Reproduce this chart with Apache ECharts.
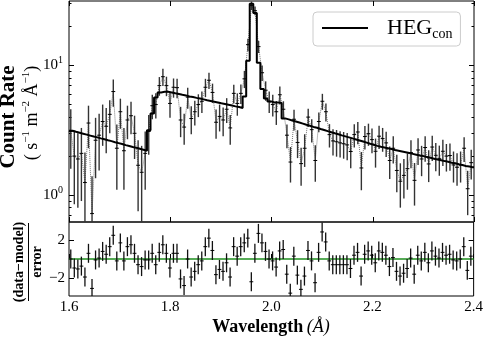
<!DOCTYPE html>
<html>
<head>
<meta charset="utf-8">
<script src="https://cdn.jsdelivr.net/npm/echarts@6/dist/echarts.min.js"></script>
<style>
html, body { margin: 0; padding: 0; background: #fff; }
#main { width: 486px; height: 340px; }
</style>
</head>
<body>
<div id="main"></div>
<script>
// bin centres (Angstrom)
var wave = [
  1.6035, 1.6105, 1.6175, 1.6245, 1.6315, 1.6385, 1.6455, 1.6525, 1.6595, 1.6665,
  1.6735, 1.6805, 1.6875, 1.6945, 1.7015, 1.7085, 1.7155, 1.7225, 1.7295, 1.7365,
  1.7435, 1.7505, 1.7575, 1.7645, 1.7715, 1.7785, 1.7855, 1.7925, 1.7995, 1.8065,
  1.8135, 1.8205, 1.8275, 1.8345, 1.8415, 1.8485, 1.8555, 1.8625, 1.8695, 1.8765,
  1.8835, 1.8905, 1.8975, 1.9045, 1.9115, 1.9185, 1.9255, 1.9325, 1.9395, 1.9465,
  1.9535, 1.9605, 1.9675, 1.9745, 1.9815, 1.9885, 1.9955, 2.0025, 2.0095, 2.0165,
  2.0235, 2.0305, 2.0375, 2.0445, 2.0515, 2.0585, 2.0655, 2.0725, 2.0795, 2.0865,
  2.0935, 2.1005, 2.1075, 2.1145, 2.1215, 2.1285, 2.1355, 2.1425, 2.1495, 2.1565,
  2.1635, 2.1705, 2.1775, 2.1845, 2.1915, 2.1985, 2.2055, 2.2125, 2.2195, 2.2265,
  2.2335, 2.2405, 2.2475, 2.2545, 2.2615, 2.2685, 2.2755, 2.2825, 2.2895, 2.2965,
  2.3035, 2.3105, 2.3175, 2.3245, 2.3315, 2.3385, 2.3455, 2.3525, 2.3595, 2.3665,
  2.3735, 2.3805, 2.3875, 2.3945
];

// count rate, its error, the HEG_con model and (data-model)/error
var rate = [
  3.1, 2.0, 1.9, 2.1, 1.25, 3.6, 0.72, 2.65, 2.9, 3.7,
  3.4, 4.2, 6.3, 2.3, 4.4, 2.2, 3.8, 4.1, 3.0, 1.7,
  1.5, 2.1, 3.1, 4.9, 5.0, 7.0, 8.2, 7.0, 5.1, 6.8,
  6.75, 3.8, 3.35, 5.7, 3.9, 4.4, 5.0, 5.3, 6.8, 7.7,
  6.2, 3.65, 4.05, 3.8, 4.6, 3.3, 6.1, 5.1, 6.1, 7.9,
  14.5, 29.0, 26.5, 14.0, 8.8, 6.45, 5.3, 5.0, 4.4, 5.95,
  4.6, 2.9, 1.8, 3.85, 2.55, 1.75, 2.3, 4.0, 3.2, 1.85,
  3.7, 5.3, 4.4, 2.93, 2.62, 2.58, 2.53, 2.49, 2.44, 2.17,
  2.93, 3.07, 1.62, 2.83, 2.98, 2.68, 2.18, 2.85, 2.73, 2.53,
  1.85, 2.3, 1.55, 1.28, 1.42, 1.6, 2.13, 1.3, 2.23, 1.9,
  2.33, 1.74, 2.35, 2.03, 1.91, 2.18, 2.0, 2.02, 1.71, 1.64,
  1.71, 2.3, 1.12, 1.78
];
var rateErr = [
  1.5, 1.15, 1.1, 1.2, 0.88, 1.3, 0.68, 1.3, 1.35, 1.3,
  1.3, 1.2, 1.5, 1.2, 1.15, 1.1, 1.1, 1.15, 1.1, 0.95,
  0.9, 1.0, 1.05, 1.05, 1.1, 1.15, 1.25, 1.2, 1.15, 1.15,
  1.15, 1.0, 0.9, 1.05, 0.95, 0.95, 1.0, 1.0, 1.1, 1.1,
  1.05, 0.93, 0.95, 0.95, 1.0, 0.85, 1.0, 1.0, 1.05, 1.2,
  1.6, 2.2, 2.1, 1.5, 1.2, 1.1, 1.0, 0.95, 0.92, 0.95,
  0.7, 0.6, 0.55, 0.7, 0.62, 0.57, 0.65, 0.65, 0.65, 0.58,
  0.65, 0.75, 0.7, 0.6, 0.6, 0.6, 0.58, 0.58, 0.58, 0.56,
  0.6, 0.6, 0.53, 0.58, 0.58, 0.58, 0.55, 0.58, 0.57, 0.56,
  0.52, 0.55, 0.5, 0.48, 0.48, 0.5, 0.52, 0.47, 0.52, 0.5,
  0.52, 0.48, 0.52, 0.5, 0.5, 0.5, 0.48, 0.48, 0.46, 0.46,
  0.46, 0.5, 0.42, 0.46
];
var model = [
  3.14, 3.08, 3.03, 2.98, 2.93, 2.88, 2.83, 2.79, 2.74, 2.70,
  2.65, 2.61, 2.56, 2.52, 2.48, 2.43, 2.39, 2.35, 2.32, 2.28,
  2.24, 2.20, 3.16, 4.27, 5.67, 6.2, 6.27, 6.27, 6.2, 6.11,
  6.04, 5.95, 5.87, 5.78, 5.71, 5.63, 5.56, 5.48, 5.40, 5.33,
  5.26, 5.19, 5.11, 5.05, 4.98, 4.91, 4.84, 4.78, 4.71, 5.78,
  10.9, 30.0, 25.5, 10.5, 6.6, 5.57, 5.29, 5.19, 5.19, 5.15,
  3.91, 3.84, 3.77, 3.70, 3.63, 3.56, 3.49, 3.43, 3.36, 3.31,
  3.24, 3.18, 3.12, 3.06, 3.00, 2.95, 2.89, 2.84, 2.79, 2.74,
  2.69, 2.64, 2.59, 2.54, 2.49, 2.45, 2.40, 2.36, 2.33, 2.30,
  2.27, 2.23, 2.20, 2.17, 2.14, 2.11, 2.08, 2.05, 2.02, 2.00,
  1.97, 1.94, 1.91, 1.88, 1.86, 1.83, 1.81, 1.78, 1.76, 1.73,
  1.71, 1.68, 1.66, 1.64
];
var resid = [
  0, -0.95, -1.05, -0.75, -1.9, 0.6, -3.1, -0.1, 0.1, 0.8,
  0.5, 1.3, 2.5, -0.2, 1.7, -0.2, 1.3, 1.5, 0.6, -0.6,
  -0.8, -0.1, -0.1, 0.6, -0.6, 0.7, 1.5, 0.6, -0.95, 0.6,
  0.6, -2.1, -2.8, 0, -1.9, -1.3, -0.6, -0.2, 1.3, 2.2,
  0.9, -1.65, -1.1, -1.3, -0.4, -1.9, 1.3, 0.3, 1.3, 1.7,
  2.2, -2.4, 0.6, 2.7, 1.7, 0.8, 0, -0.2, -0.85, 0.85,
  1.0, -1.6, -3.6, 0.3, -1.7, -3.2, -1.8, 0.9, -0.2, -2.5,
  0.7, 2.85, 1.8, -0.2, -0.6, -0.6, -0.6, -0.6, -0.6, -1.0,
  0.4, 0.7, -1.8, 0.5, 0.85, 0.4, -0.4, 0.85, 0.7, 0.4,
  -0.8, 0.15, -1.3, -1.8, -1.5, -1.0, 0.1, -1.6, 0.4, -0.2,
  0.7, -0.4, 0.85, 0.3, 0.1, 0.7, 0.4, 0.5, -0.1, -0.2,
  0, 1.3, -1.2, 0.3
];

var xTicks = [1.6, 1.8, 2.0, 2.2, 2.4];
var yMajor = [1, 10];
var yMinor = [0.7, 0.8, 0.9, 2, 3, 4, 5, 6, 7, 8, 9, 20, 30];
var residTicks = [-2, 2];

var xMin = 1.6, xMax = 2.4;
var yMin = 0.62, yMax = 31.5;
var rMin = -3.9, rMax = 3.9;
var halfBin = 0.0038;
var serif = '"Liberation Serif", "DejaVu Serif", serif';

var chart = echarts.init(document.getElementById('main'));

function xAxisOf(grid, pos, withLabels) {
  return {
    type: 'value', gridIndex: grid, position: pos,
    min: xMin, max: xMax, interval: 0.2,
    axisLine: { show: false },
    splitLine: { show: false },
    axisTick: { inside: true, length: 5, customValues: xTicks, lineStyle: { color: '#000', width: 1 } },
    axisLabel: withLabels ? {
      customValues: xTicks, margin: 4, color: '#000',
      fontFamily: serif, fontSize: 15,
      formatter: function (v) { return v.toFixed(1); }
    } : { show: false }
  };
}

function logAxisOf(pos, ticks, len, withLabels) {
  return {
    type: 'log', logBase: 10, gridIndex: 0, position: pos,
    min: yMin, max: yMax,
    axisLine: { show: false },
    splitLine: { show: false },
    axisTick: { inside: true, length: len, customValues: ticks, lineStyle: { color: '#000', width: 1 } },
    axisLabel: withLabels ? {
      customValues: ticks, margin: 6,
      formatter: function (v) {
        return '{b|10}{s|' + Math.round(Math.log10(v)) + '}';
      },
      rich: {
        b: { fontFamily: serif, fontSize: 15, lineHeight: 20, color: '#000' },
        s: { fontFamily: serif, fontSize: 10, lineHeight: 10, verticalAlign: 'top', color: '#000' }
      }
    } : { show: false }
  };
}

function residAxisOf(pos, withLabels) {
  return {
    type: 'value', gridIndex: 1, position: pos,
    min: rMin, max: rMax,
    axisLine: { show: false },
    splitLine: { show: false },
    axisTick: { inside: true, length: 5, customValues: residTicks, lineStyle: { color: '#000', width: 1 } },
    axisLabel: withLabels ? {
      customValues: residTicks, margin: 4, color: '#000',
      fontFamily: serif, fontSize: 15,
      formatter: function (v) { return v < 0 ? '\u2212' + (-v) : '' + v; }
    } : { show: false }
  };
}

// error bar: vertical bar +- err, horizontal bar over the bin
function errBar(lo, hi, barColor, barWidth) {
  return function (params, api) {
    var x = api.value(0), y = api.value(1), e = api.value(2);
    var a = api.coord([x, Math.max(y - e, lo)]);
    var b = api.coord([x, Math.min(y + e, hi)]);
    var l = api.coord([x - halfBin, y]);
    var r = api.coord([x + halfBin, y]);
    return {
      type: 'group',
      children: [
        { type: 'line', shape: { x1: a[0], y1: a[1], x2: b[0], y2: b[1] },
          style: { stroke: barColor, lineWidth: barWidth } },
        { type: 'line', shape: { x1: l[0], y1: l[1], x2: r[0], y2: r[1] },
          style: { stroke: '#000', lineWidth: 1 } }
      ]
    };
  };
}

var dataPts = wave.map(function (w, i) { return [w, rate[i]]; });
var errPts = wave.map(function (w, i) { return [w, rate[i], rateErr[i]]; });
var modelPts = [[xMin, model[0]]]
  .concat(wave.map(function (w, i) { return [w, model[i]]; }))
  .concat([[xMax, model[model.length - 1]]]);
var residPts = wave.map(function (w, i) { return [w, resid[i], 1]; });

var option = {
  animation: false,
  backgroundColor: '#fff',
  textStyle: { fontFamily: serif },
  grid: [
    { left: 69, top: 1, width: 405, height: 221, show: true, borderColor: '#000', borderWidth: 1, backgroundColor: 'transparent' },
    { left: 69, top: 222, width: 405, height: 74, show: true, borderColor: '#000', borderWidth: 1, backgroundColor: 'transparent' }
  ],
  xAxis: [
    xAxisOf(0, 'bottom', false),
    xAxisOf(0, 'top', false),
    xAxisOf(1, 'bottom', true)
  ],
  yAxis: [
    logAxisOf('left', yMajor, 5, true),
    logAxisOf('left', yMinor, 2.5, false),
    logAxisOf('right', yMajor, 5, false),
    logAxisOf('right', yMinor, 2.5, false),
    residAxisOf('left', true),
    residAxisOf('right', false)
  ],
  legend: {
    left: 313, top: 12,
    padding: [5, 8, 5, 9],
    borderColor: '#ccc', borderWidth: 1, borderRadius: 4,
    backgroundColor: 'rgba(255,255,255,0.8)',
    icon: 'rect', itemWidth: 46, itemHeight: 2,
    data: ['HEG_con'],
    formatter: function () { return '{m|HEG}{s|con}'; },
    textStyle: {
      padding: [0, 0, 0, 14],
      rich: {
        m: { fontFamily: serif, fontSize: 22, lineHeight: 26, color: '#000' },
        s: { fontFamily: serif, fontSize: 14, lineHeight: 14, verticalAlign: 'bottom', color: '#000' }
      }
    }
  },
  graphic: [
    { type: 'text', x: 9, y: 117, rotation: Math.PI / 2,
      style: { text: 'Count Rate', fontFamily: serif, fontWeight: 'bold', fontSize: 21, fill: '#000', align: 'center', verticalAlign: 'middle' } },
    { type: 'text', x: 32, y: 113, rotation: Math.PI / 2,
      style: {
        text: '{p|( s}{u|\u22121}{p| m}{u|\u22122}{p| \u00c5}{u|\u22121}{p|)}',
        align: 'center', verticalAlign: 'middle',
        rich: {
          p: { fontFamily: serif, fontSize: 18, lineHeight: 22, fill: '#000' },
          u: { fontFamily: serif, fontSize: 11, lineHeight: 12, verticalAlign: 'top', fill: '#000' }
        }
      } },
    { type: 'text', x: 19, y: 262, rotation: Math.PI / 2,
      style: { text: '(data\u2212model)', fontFamily: serif, fontWeight: 'bold', fontSize: 14, fill: '#000', align: 'center', verticalAlign: 'middle' } },
    { type: 'line', shape: { x1: 28.5, y1: 223, x2: 28.5, y2: 301 }, style: { stroke: '#000', lineWidth: 1 } },
    { type: 'text', x: 37, y: 262, rotation: Math.PI / 2,
      style: { text: 'error', fontFamily: serif, fontWeight: 'bold', fontSize: 14, fill: '#000', align: 'center', verticalAlign: 'middle' } },
    { type: 'text', x: 271, y: 327,
      style: {
        text: '{b|Wavelength} {i|(\u00c5)}',
        align: 'center', verticalAlign: 'middle',
        rich: {
          b: { fontFamily: serif, fontWeight: 'bold', fontSize: 18, fill: '#000' },
          i: { fontFamily: serif, fontStyle: 'italic', fontSize: 18, fill: '#000' }
        }
      } }
  ],
  series: [
    {
      name: 'data', type: 'line', xAxisIndex: 0, yAxisIndex: 0,
      data: dataPts, symbol: 'none', silent: true, z: 2,
      lineStyle: { color: '#777', width: 1, type: 'dotted' }
    },
    {
      name: 'dataErr', type: 'custom', xAxisIndex: 0, yAxisIndex: 0,
      data: errPts, renderItem: errBar(yMin, yMax, '#333', 1.4), silent: true, z: 3
    },
    {
      name: 'HEG_con', type: 'line', xAxisIndex: 0, yAxisIndex: 0,
      data: modelPts, step: 'middle', symbol: 'none', silent: true, z: 4,
      itemStyle: { color: '#000' },
      lineStyle: { color: '#000', width: 2 }
    },
    {
      name: 'zero', type: 'line', xAxisIndex: 2, yAxisIndex: 4,
      data: [[xMin, 0], [xMax, 0]], symbol: 'none', silent: true, z: 2,
      lineStyle: { color: '#1f8f1f', width: 1.6 }
    },
    {
      name: 'residErr', type: 'custom', xAxisIndex: 2, yAxisIndex: 4,
      data: residPts, renderItem: errBar(rMin, rMax, '#111', 1.3), silent: true, z: 3
    }
  ]
};

chart.setOption(option);
</script>
</body>
</html>
